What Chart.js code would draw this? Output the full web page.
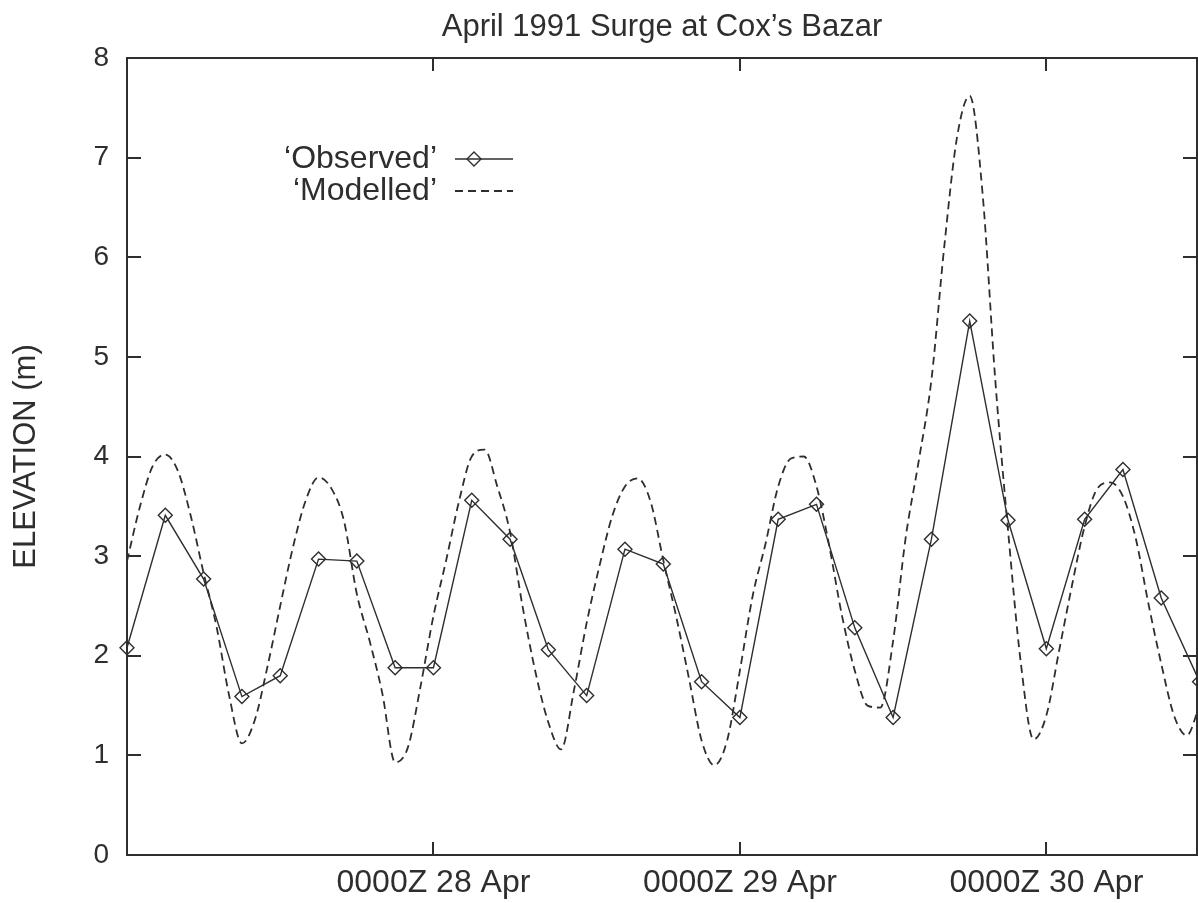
<!DOCTYPE html>
<html>
<head>
<meta charset="utf-8">
<title>April 1991 Surge at Cox's Bazar</title>
<script src="https://cdn.jsdelivr.net/npm/chart.js@4.4.1/dist/chart.umd.min.js"></script>
<style>
  html, body { margin: 0; padding: 0; background: #fff; }
  canvas { display: block; }
</style>
</head>
<body>
<canvas id="surge-chart" width="1198" height="903"></canvas>
<script>
// values - hours since 0000Z 27 Apr, elevation in m
var obs_hours = [0, 3, 6, 9, 12, 15, 18, 21, 24, 27, 30, 33, 36, 39, 42, 45, 48, 51, 54, 57, 60, 63, 66, 69, 72, 75, 78, 81, 84];
var obs_elev = [2.08, 3.41, 2.77, 1.59, 1.80, 2.97, 2.95, 1.88, 1.88, 3.56, 3.17, 2.06, 1.60, 3.07, 2.92, 1.74, 1.38, 3.37, 3.52, 2.28, 1.38, 3.17, 5.36, 3.36, 2.07, 3.37, 3.87, 2.58, 1.74];

var mod_hours = [0, 1, 2, 3, 4, 5, 6, 7, 8, 9, 10, 11, 12, 13, 14, 15, 16, 17, 18, 19, 20,
    21, 22, 23, 24, 25, 26, 27, 28, 29, 30, 31, 32, 33, 34, 35, 36, 37, 38, 39, 40,
    41, 42, 43, 44, 45, 46, 47, 48, 49, 50, 51, 52, 53, 54, 55, 56, 57, 58, 59, 60,
    61, 62, 63, 64, 65, 66, 67, 68, 69, 70, 71, 72, 73, 74, 75, 76, 77, 78, 79, 80,
    81, 82, 83, 84];
var mod_elev = [2.95, 3.49, 3.90, 4.02, 3.85, 3.40, 2.83, 2.30, 1.60, 1.12, 1.35, 1.89, 2.50, 3.09, 3.56, 3.79, 3.68, 3.35, 2.62, 2.15, 1.62,
    0.93, 1.08, 1.70, 2.40, 2.96, 3.55, 4.00, 4.07, 3.70, 3.24, 2.48, 1.83, 1.33, 1.06, 1.65, 2.33, 2.90, 3.40, 3.70, 3.78,
    3.55, 2.96, 2.40, 1.78, 1.15, 0.90, 1.15, 1.85, 2.60, 3.12, 3.70, 3.98, 4.00, 3.70, 3.10, 2.40, 1.85, 1.50, 1.48, 2.15,
    3.20, 3.95, 4.77, 6.10, 7.20, 7.62, 6.65, 4.77, 3.26, 1.93, 1.16, 1.40, 2.05, 2.70, 3.30, 3.68, 3.74, 3.60, 3.18, 2.52,
    1.92, 1.40, 1.20, 1.50];

var x_tick_hours = [24, 48, 72];
var x_tick_labels = ['0000Z 28 Apr', '0000Z 29 Apr', '0000Z 30 Apr'];
var legend_labels = ['\u2018Observed\u2019', '\u2018Modelled\u2019'];

var INK = '#2e2e2e';
var FONT = "'Liberation Sans', Arial, Helvetica, sans-serif";

function to_points(xs, ys) {
    return xs.map(function (x, i) { return {x: x, y: ys[i]}; });
}

// box round the plot with the little inward ticks on all four sides
var framePlugin = {
    id: 'frame',
    afterDatasetsDraw: function (chart) {
        var ctx = chart.ctx;
        var a = chart.chartArea;
        var xs = chart.scales.x;
        var ys = chart.scales.y;
        ctx.save();
        ctx.strokeStyle = INK;
        ctx.lineWidth = 2;
        ctx.strokeRect(a.left, a.top, a.right - a.left, a.bottom - a.top);
        ctx.beginPath();
        ys.ticks.forEach(function (t) {
            if (t.value <= ys.min || t.value >= ys.max) return;
            var y = Math.round(ys.getPixelForValue(t.value));
            ctx.moveTo(a.left, y);
            ctx.lineTo(a.left + 14, y);
            ctx.moveTo(a.right, y);
            ctx.lineTo(a.right - 14, y);
        });
        xs.ticks.forEach(function (t) {
            var x = Math.round(xs.getPixelForValue(t.value));
            ctx.moveTo(x, a.bottom);
            ctx.lineTo(x, a.bottom - 13);
            ctx.moveTo(x, a.top);
            ctx.lineTo(x, a.top + 13);
        });
        ctx.stroke();
        ctx.restore();
    }
};

// gnuplot style key: text right aligned, sample on the right
var keyPlugin = {
    id: 'key',
    afterDatasetsDraw: function (chart) {
        var ctx = chart.ctx;
        var ds = chart.data.datasets;
        var textRight = 437, x0 = 455, x1 = 513;
        var rows = [159, 191];
        ctx.save();
        ctx.font = '32px ' + FONT;
        ctx.fillStyle = INK;
        ctx.textAlign = 'right';
        ctx.textBaseline = 'middle';
        rows.forEach(function (y, i) {
            ctx.fillText(legend_labels[i], textRight, y);
            ctx.save();
            ctx.strokeStyle = ds[i].borderColor;
            ctx.lineWidth = ds[i].borderWidth;
            ctx.setLineDash(ds[i].borderDash || []);
            ctx.beginPath();
            ctx.moveTo(x0, y);
            ctx.lineTo(x1, y);
            ctx.stroke();
            ctx.restore();
        });
        ctx.strokeStyle = INK;
        ctx.fillStyle = 'rgba(0,0,0,0)';
        Chart.helpers.drawPoint(ctx, {pointStyle: 'rectRot', radius: 7, borderWidth: 1.4}, 474, rows[0]);
        ctx.restore();
    }
};

var canvas = document.getElementById('surge-chart');
var chart = new Chart(canvas.getContext('2d'), {
    type: 'line',
    data: {
        datasets: [{
            label: legend_labels[0],
            data: to_points(obs_hours, obs_elev),
            borderColor: INK,
            borderWidth: 1.4,
            tension: 0,
            pointStyle: 'rectRot',
            pointRadius: 7,
            pointBorderWidth: 1.4,
            pointBorderColor: INK,
            pointBackgroundColor: 'rgba(0,0,0,0)',
            clip: false
        }, {
            label: legend_labels[1],
            data: to_points(mod_hours, mod_elev),
            borderColor: INK,
            borderWidth: 1.8,
            borderDash: [8, 5],
            pointRadius: 0,
            cubicInterpolationMode: 'monotone'
        }]
    },
    options: {
        responsive: false,
        animation: false,
        devicePixelRatio: 1,
        layout: {autoPadding: false, padding: {left: 0, right: 1, top: 0, bottom: 0}},
        plugins: {
            legend: {display: false},
            tooltip: {enabled: false},
            title: {
                display: true,
                fullSize: false,
                text: "April 1991 Surge at Cox\u2019s Bazar",
                color: INK,
                font: {family: FONT, size: 31, weight: 'normal'},
                padding: {top: 9, bottom: 11.8}
            }
        },
        scales: {
            x: {
                type: 'linear',
                min: 0,
                max: 83.8,
                grid: {display: false, drawTicks: false},
                border: {display: false},
                afterBuildTicks: function (scale) {
                    scale.ticks = x_tick_hours.map(function (v) { return {value: v}; });
                },
                afterFit: function (scale) {
                    scale.height = 48;
                    scale.paddingLeft = 0;
                    scale.paddingRight = 0;
                },
                ticks: {
                    color: INK,
                    padding: 9,
                    maxRotation: 0,
                    autoSkip: false,
                    font: {family: FONT, size: 32},
                    callback: function (value, index) { return x_tick_labels[index]; }
                }
            },
            y: {
                min: 0,
                max: 8,
                grid: {display: false, drawTicks: false},
                border: {display: false},
                afterFit: function (scale) { scale.width = 127; },
                ticks: {
                    stepSize: 1,
                    color: INK,
                    padding: 18,
                    font: {family: FONT, size: 28}
                },
                title: {
                    display: true,
                    text: 'ELEVATION (m)',
                    color: INK,
                    font: {family: FONT, size: 31},
                    padding: {top: 8, bottom: 0}
                }
            }
        }
    },
    plugins: [framePlugin, keyPlugin]
});
canvas.chart = chart;
</script>
</body>
</html>
